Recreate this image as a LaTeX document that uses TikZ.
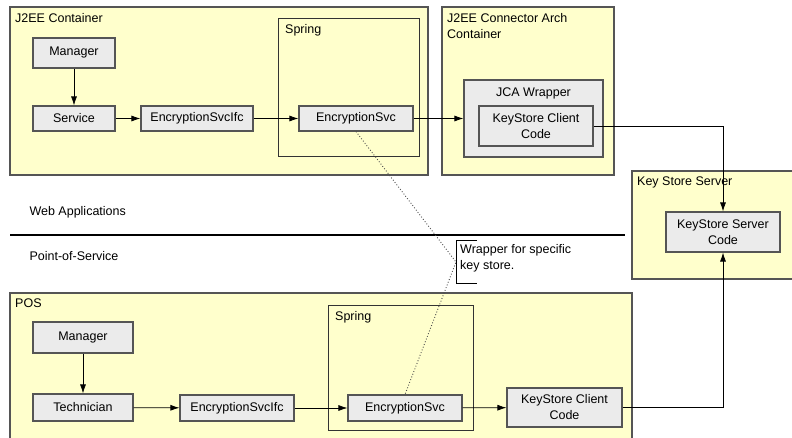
\documentclass[tikz,border=0pt]{standalone}
\usepackage{fontspec}
\setmainfont{Liberation Sans}
\usetikzlibrary{arrows.meta}

\definecolor{paleyellow}{HTML}{FFFFCC}
\definecolor{boxgray}{HTML}{EBEBEB}
\definecolor{edgegray}{HTML}{555555}

\begin{document}
\begin{tikzpicture}[x=1pt, y=-1pt,
      font=\fontsize{12.5}{16}\selectfont,
      container/.style={draw=edgegray, fill=paleyellow, line width=1.1pt},
      springbox/.style={draw=black!80, line width=0.9pt},
      comp/.style={draw=edgegray, fill=boxgray, line width=1.1pt, align=center,
                   inner sep=1pt},
      caption/.style={anchor=north west, align=left, inner sep=1pt},
      arrow/.style={-{Latex[length=9pt,width=6pt]}, line width=0.8pt},
      link/.style={line width=0.8pt},
      note/.style={dotted, line width=0.9pt, black!70}]
    \useasboundingbox (0,0) rectangle (792,438);

    % containers
    \draw[container] (10,7) rectangle (428,175);
    \node[caption] (j2eelbl) at (14,12) {J2EE Container};
    \draw[springbox] (278,18) rectangle (419,156);
    \node[caption] (springlblA) at (284,23) {Spring};
    \draw[container] (442,7) rectangle (614,175);
    \node[caption] (jcalbl) at (446,12) {J2EE Connector Arch\\Container};
    \draw[container] (632,171) rectangle (800,279);
    \node[caption] (kslbl) at (636,176) {Key Store Server};
    \fill[paleyellow] (10,293) rectangle (632,440);
    \draw[edgegray, line width=1.1pt] (10,440) -- (10,293) -- (632,293) -- (632,440);
    \node[caption] (poslbl) at (14,298) {POS};
    \draw[springbox] (328,305) rectangle (473,430);
    \node[caption] (springlblB) at (334,310) {Spring};

    % web application side
    \node[comp, minimum width=82pt, minimum height=30pt] (mgrA) at (74,53) {Manager};
    \node[comp, minimum width=82pt, minimum height=25pt] (svcA) at (74,118.5) {Service};
    \node[comp, minimum width=112pt, minimum height=25pt] (ifcA) at (197,118.5) {EncryptionSvcIfc};
    \node[comp, minimum width=114pt, minimum height=25pt] (encA) at (356,118.5) {EncryptionSvc};
    \node[comp, minimum width=139pt, minimum height=77pt] (jca) at (533.5,118.5) {};
    \node[inner sep=1pt] (jcalblB) at (533.5,93) {JCA Wrapper};
    \node[comp, minimum width=114pt, minimum height=40pt] (kscA) at (536,126) {KeyStore Client\\Code};
    \node[comp, minimum width=114pt, minimum height=40pt] (kss) at (723,232) {KeyStore Server\\Code};

    % divider
    \draw[line width=2pt] (10,235) -- (625,235);
    \node[anchor=west] (webapp) at (26,212) {Web Applications};
    \node[anchor=west] (pos) at (26,256) {Point-of-Service};

    % point-of-service side
    \node[comp, minimum width=100pt, minimum height=31pt] (mgrB) at (83,337.5) {Manager};
    \node[comp, minimum width=100pt, minimum height=27pt] (tech) at (83,407.5) {Technician};
    \node[comp, minimum width=114pt, minimum height=26pt] (ifcB) at (237,408) {EncryptionSvcIfc};
    \node[comp, minimum width=114pt, minimum height=26pt] (encB) at (405,408) {EncryptionSvc};
    \node[comp, minimum width=115pt, minimum height=39pt] (kscB) at (564.5,407.5) {KeyStore Client\\Code};

    % note
    \coordinate (wrapnote) at (456,262);
    \draw[line width=0.9pt] (477,240) -- (456,240) -- (456,283) -- (477,283);
    \node[caption, inner sep=0pt] (wraptext) at (460,244) {Wrapper for specific\\key store.};
    \draw[note] (encA.south) -- (wrapnote) -- (encB.north);

    \draw[arrow] (mgrA) -- (svcA);
    \draw[arrow] (svcA) -- (ifcA);
    \draw[arrow] (ifcA) -- (encA);
    \draw[arrow] (encA) -- (jca);
    \draw[arrow] (kscA.east) -| (kss.north);
    \draw[arrow] (mgrB) -- (tech);
    \draw[arrow] (tech) -- (ifcB);
    \draw[arrow] (ifcB) -- (encB);
    \draw[arrow] (encB) -- (kscB);
    \draw[arrow] (kscB.east) -| (kss.south);
  \end{tikzpicture}
\end{document}
